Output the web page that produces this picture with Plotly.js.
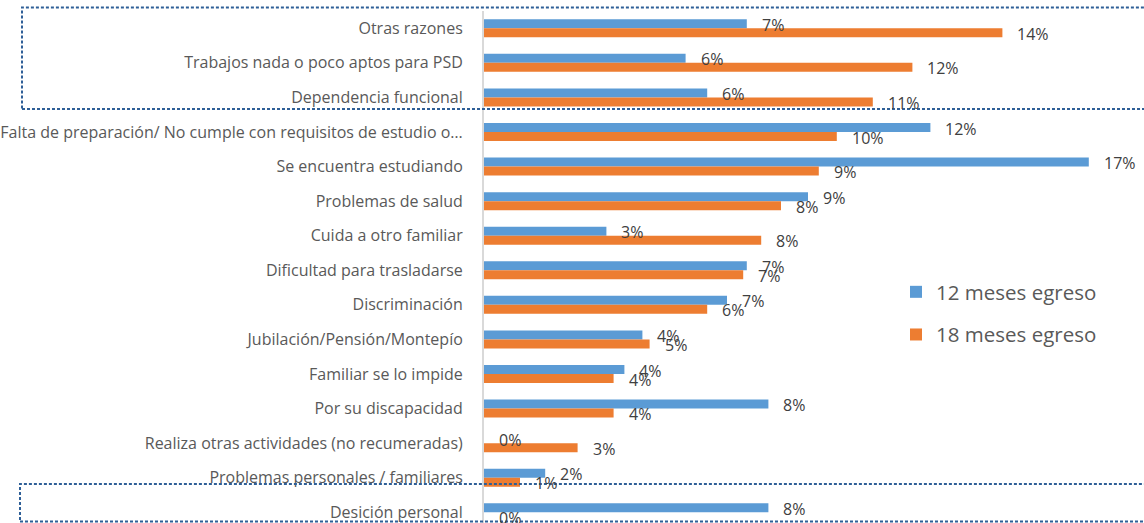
<!DOCTYPE html>
<html>
<head>
<meta charset="utf-8">
<script src="https://cdn.plot.ly/plotly-3.0.1.min.js"></script>
<style>
  html, body { margin: 0; padding: 0; background: #ffffff; }
  #chart { width: 1144px; height: 523px; }
</style>
</head>
<body>
<div id="chart"></div>
<script>
// Categories (top to bottom)
const categories = [
  "Otras razones",
  "Trabajos nada o poco aptos para PSD",
  "Dependencia funcional",
  "Falta de preparación/ No cumple con requisitos de estudio o…",
  "Se encuentra estudiando",
  "Problemas de salud",
  "Cuida a otro familiar",
  "Dificultad para trasladarse",
  "Discriminación",
  "Jubilación/Pensión/Montepío",
  "Familiar se lo impide",
  "Por su discapacidad",
  "Realiza otras actividades (no recumeradas)",
  "Problemas personales / familiares",
  "Desición personal"
];
// Series values (%)
const meses12 = [7.3, 5.6, 6.2, 12.4, 16.8, 9.0, 3.4, 7.3, 6.75, 4.4, 3.9, 7.9, 0, 1.7, 7.9];
const meses18 = [14.4, 11.9, 10.8, 9.8, 9.3, 8.25, 7.7, 7.2, 6.2, 4.6, 3.6, 3.6, 2.6, 1.0, 0];
const seriesNames = ["12 meses egreso", "18 meses egreso"];
const seriesColors = ["#5B9BD5", "#ED7D31"];

const labelFont = { family: "Open Sans, sans-serif", size: 16, color: "#404040" };

const traces = [meses12, meses18].map((vals, i) => ({
  type: "bar",
  orientation: "h",
  name: seriesNames[i],
  legendgroup: "g" + i,
  x: vals,
  y: categories,
  marker: { color: seriesColors[i], line: { width: 0 } },
  hoverinfo: "x+y+name"
}));

const annotations = [];
[meses12, meses18].forEach((vals, i) => {
  vals.forEach((v, j) => {
    annotations.push({
      x: v, y: categories[j], xref: "x", yref: "y",
      text: Math.round(v) + "%",
      showarrow: false,
      xanchor: "left", yanchor: "middle",
      xshift: 13,
      yshift: i === 0 ? 3.5 : -5.5,
      font: labelFont
    });
  });
});

const dotLine = { color: "#2E5F97", width: 2, dash: "3px,2px" };
const shapes = [
  { type: "rect", xref: "paper", yref: "paper",
    x0: (22 - 484) / 660, x1: 1.02, y0: (523 - 109) / 512, y1: (523 - 7.5) / 512,
    line: dotLine, fillcolor: "rgba(0,0,0,0)" },
  { type: "rect", xref: "paper", yref: "paper",
    x0: (20 - 484) / 660, x1: 1.02, y0: (523 - 521.5) / 512, y1: (523 - 484) / 512,
    line: dotLine, fillcolor: "rgba(0,0,0,0)" }
];

const layout = {
  width: 1144, height: 523,
  margin: { l: 484, r: 0, t: 11, b: 0, pad: 0 },
  paper_bgcolor: "#ffffff",
  plot_bgcolor: "#ffffff",
  barmode: "group",
  bargap: 0.48,
  bargroupgap: 0,
  showlegend: true,
  legend: {
    x: (896 - 484) / 660, y: (523 - 272) / 512, xanchor: "left", yanchor: "top",
    font: { family: "Open Sans, sans-serif", size: 20.5, color: "#595959" },
    traceorder: "grouped", tracegroupgap: 13,
    bgcolor: "rgba(0,0,0,0)"
  },
  xaxis: {
    range: [0, 660 / 36],
    showgrid: false, zeroline: false, showticklabels: false, ticks: "", showline: false
  },
  yaxis: {
    type: "category",
    range: [14.31, -0.5],
    showgrid: false, zeroline: false,
    showline: true, linecolor: "#D9D9D9", linewidth: 2,
    ticks: "", ticklabelstandoff: 16,
    tickfont: { family: "Open Sans, sans-serif", size: 16, color: "#595959" }
  },
  annotations: annotations,
  shapes: shapes
};

Plotly.newPlot("chart", traces, layout, { displayModeBar: false, staticPlot: true });
</script>
</body>
</html>
